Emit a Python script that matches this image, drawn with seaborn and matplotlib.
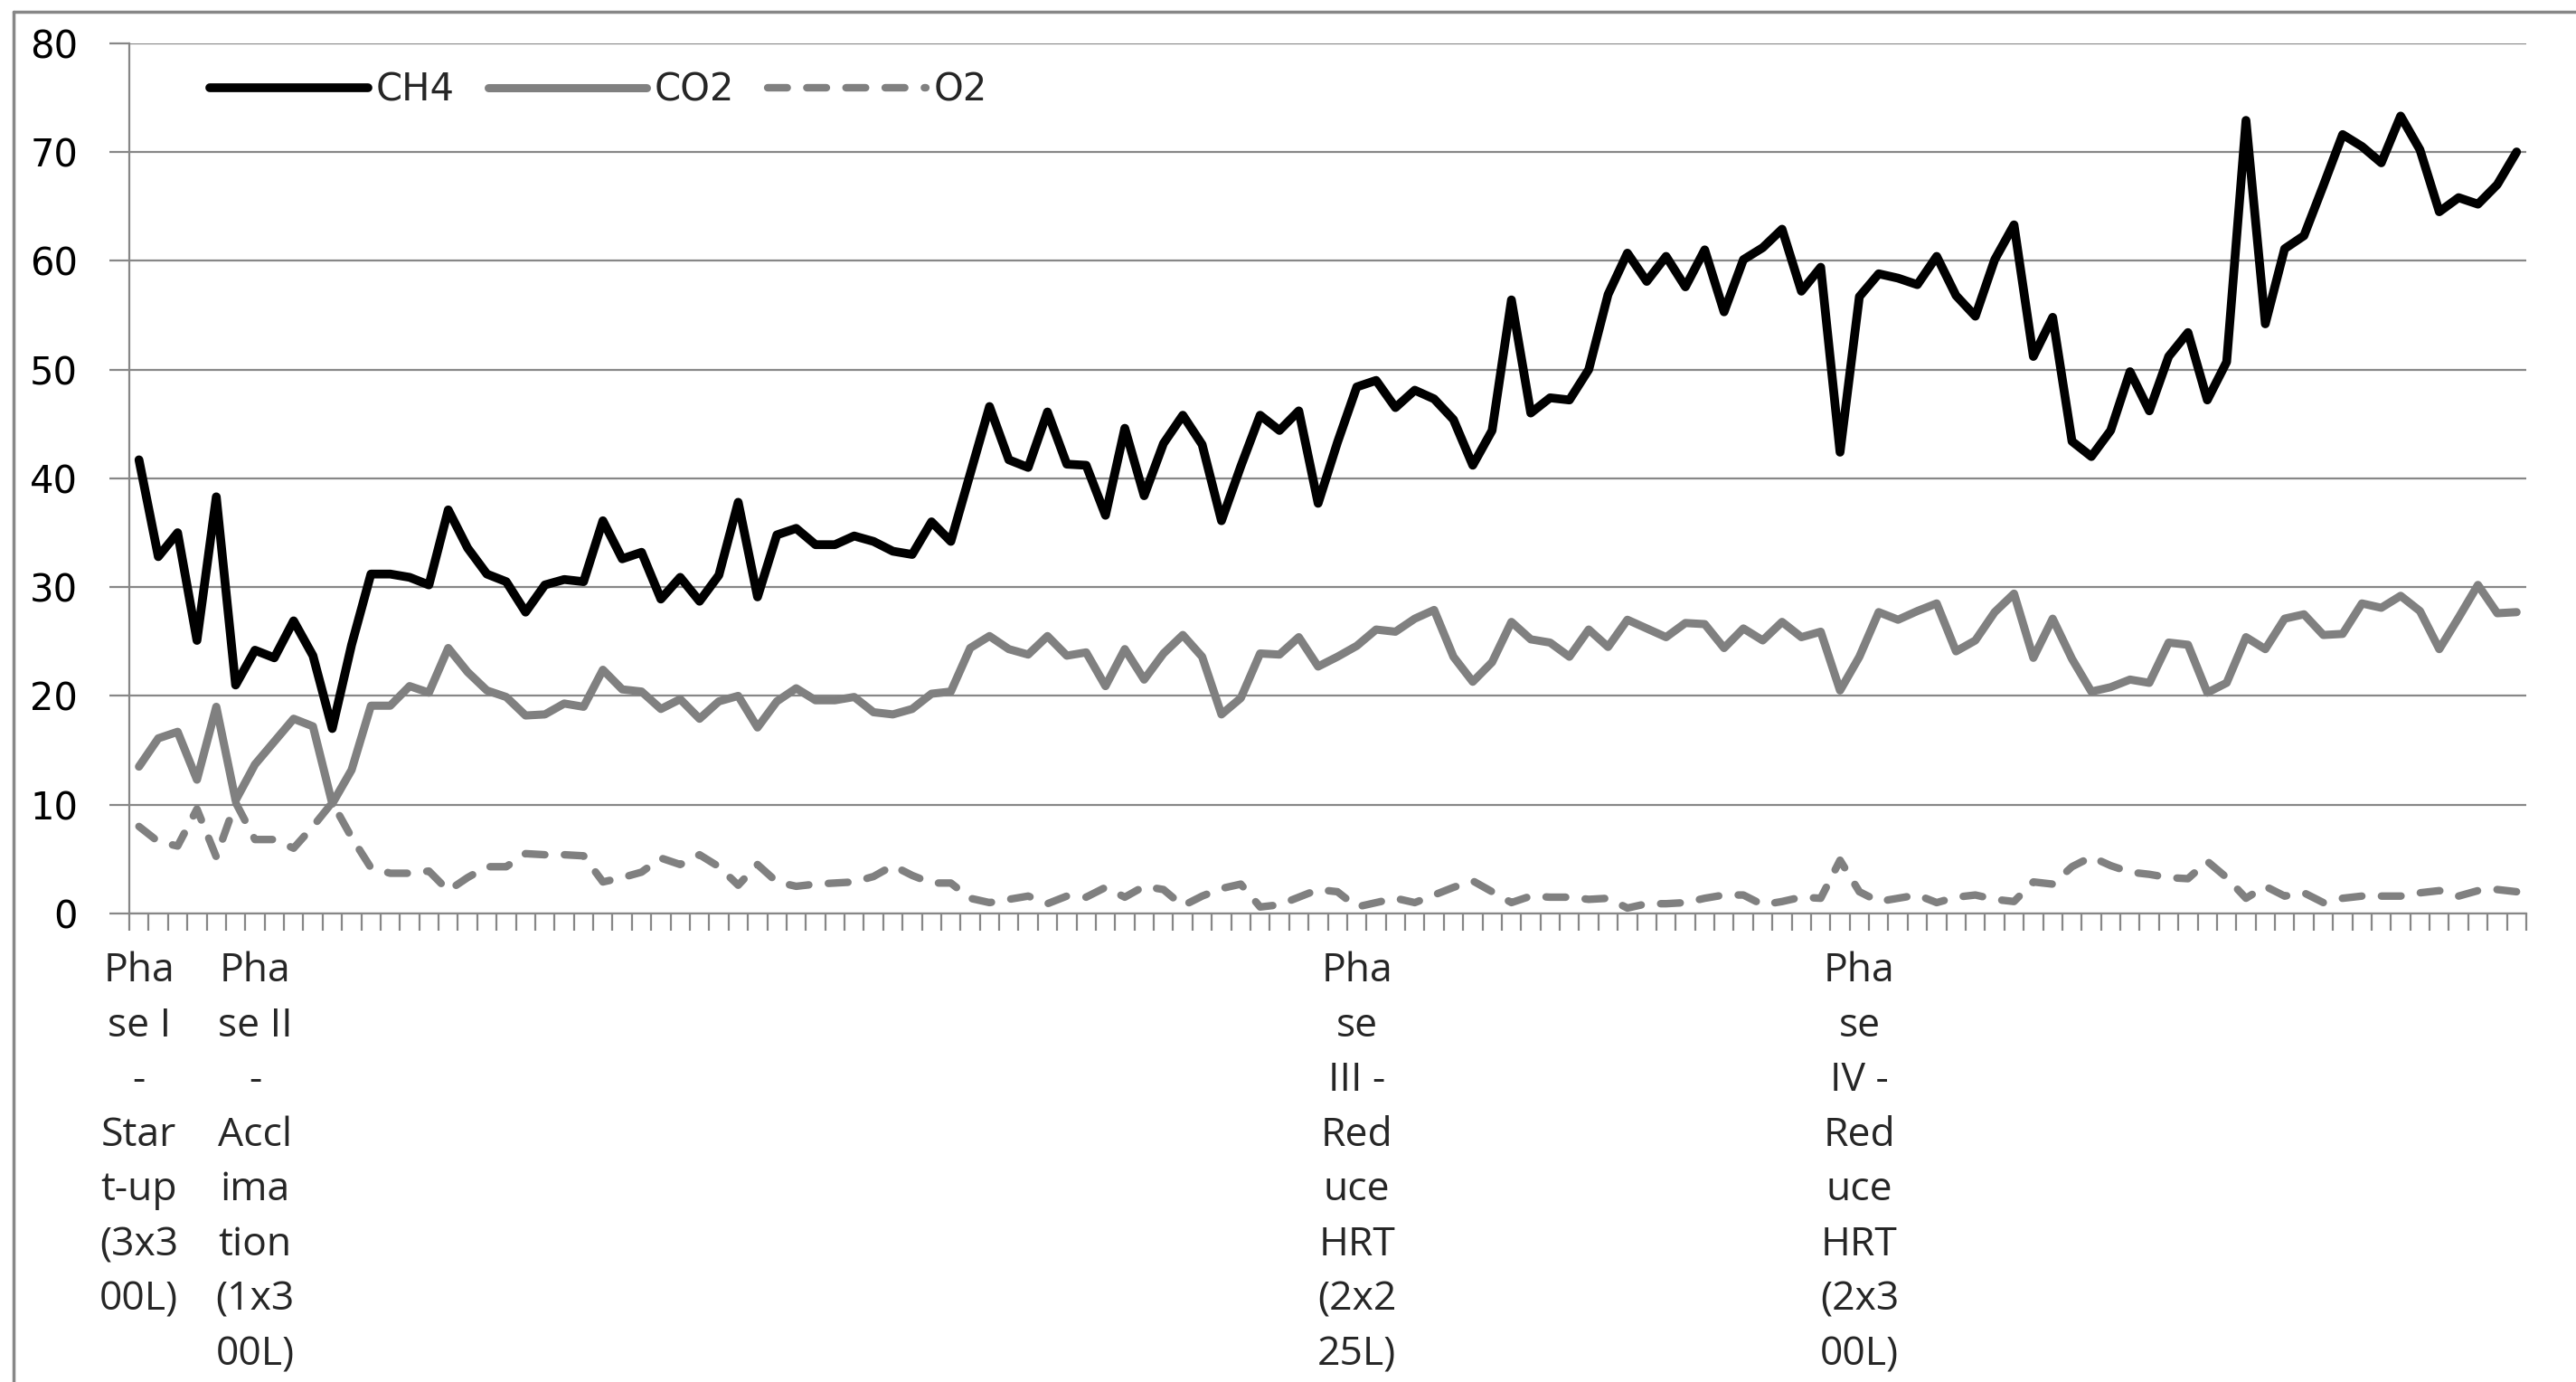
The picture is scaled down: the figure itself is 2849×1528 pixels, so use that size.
import numpy as np
import pandas as pd
import seaborn as sns
import matplotlib.pyplot as plt
from matplotlib.lines import Line2D

# CH4 / CO2 / O2 composition (%) per sample
ch4 = [41.7, 32.8, 35.0, 25.1, 38.3, 21.0, 24.2, 23.5, 26.9, 23.7,
       17.0, 24.7, 31.2, 31.2, 30.9, 30.2, 37.1, 33.6, 31.2, 30.5,
       27.7, 30.2, 30.7, 30.5, 36.1, 32.6, 33.2, 28.9, 30.9, 28.7,
       31.1, 37.8, 29.1, 34.8, 35.4, 33.9, 33.9, 34.7, 34.2, 33.3,
       33.0, 36.0, 34.2, 40.4, 46.6, 41.7, 41.0, 46.1, 41.3, 41.2,
       36.6, 44.6, 38.4, 43.2, 45.8, 43.1, 36.1, 41.1, 45.8, 44.4,
       46.2, 37.7, 43.3, 48.4, 49.0, 46.5, 48.1, 47.3, 45.4, 41.2,
       44.4, 56.4, 46.0, 47.4, 47.2, 50.0, 56.9, 60.7, 58.1, 60.4,
       57.6, 61.0, 55.3, 60.1, 61.2, 62.9, 57.2, 59.4, 42.4, 56.7,
       58.8, 58.4, 57.8, 60.4, 56.8, 54.9, 60.1, 63.3, 51.2, 54.8,
       43.4, 42.0, 44.4, 49.8, 46.2, 51.2, 53.4, 47.2, 50.7, 72.9,
       54.2, 61.1, 62.3, 66.9, 71.6, 70.5, 69.0, 73.3, 70.2, 64.5,
       65.8, 65.2, 67.0, 70.0]

co2 = [13.5, 16.1, 16.7, 12.3, 19.0, 10.4, 13.7, 15.8, 17.9, 17.2,
       10.1, 13.2, 19.1, 19.1, 20.9, 20.3, 24.4, 22.2, 20.5, 19.9,
       18.2, 18.3, 19.3, 19.0, 22.4, 20.6, 20.4, 18.8, 19.7, 17.9,
       19.5, 20.0, 17.1, 19.5, 20.7, 19.6, 19.6, 19.9, 18.5, 18.3,
       18.8, 20.2, 20.4, 24.4, 25.5, 24.3, 23.8, 25.5, 23.7, 24.0,
       20.9, 24.3, 21.5, 23.9, 25.6, 23.6, 18.3, 19.8, 23.9, 23.8,
       25.4, 22.7, 23.6, 24.6, 26.1, 25.9, 27.1, 27.9, 23.6, 21.3,
       23.1, 26.8, 25.2, 24.9, 23.6, 26.1, 24.5, 27.0, 26.2, 25.4,
       26.7, 26.6, 24.4, 26.2, 25.1, 26.8, 25.4, 25.9, 20.5, 23.6,
       27.7, 27.0, 27.8, 28.5, 24.1, 25.1, 27.7, 29.4, 23.5, 27.1,
       23.4, 20.4, 20.8, 21.5, 21.2, 24.9, 24.7, 20.3, 21.2, 25.4,
       24.3, 27.1, 27.5, 25.6, 25.7, 28.5, 28.1, 29.2, 27.8, 24.3,
       27.2, 30.2, 27.6, 27.7]

o2 = [8.0, 6.6, 6.2, 9.6, 5.2, 10.2, 6.8, 6.8, 6.0, 8.0,
      10.2, 7.0, 4.2, 3.7, 3.7, 3.9, 2.1, 3.3, 4.3, 4.3,
      5.5, 5.4, 5.4, 5.3, 2.9, 3.3, 3.8, 5.1, 4.5, 5.4,
      4.3, 2.6, 4.5, 2.9, 2.5, 2.7, 2.8, 2.9, 3.4, 4.4,
      3.5, 2.8, 2.8, 1.4, 1.0, 1.3, 1.6, 0.9, 1.6, 1.5,
      2.4, 1.5, 2.5, 2.2, 0.7, 1.6, 2.3, 2.7, 0.6, 0.8,
      1.5, 2.2, 2.0, 0.6, 1.0, 1.4, 1.0, 1.7, 2.4, 3.0,
      2.0, 1.0, 1.6, 1.5, 1.5, 1.3, 1.4, 0.5, 0.9, 0.9,
      1.0, 1.4, 1.7, 1.7, 0.8, 1.1, 1.5, 1.4, 4.9, 2.0,
      1.1, 1.4, 1.7, 1.0, 1.5, 1.7, 1.3, 1.1, 2.9, 2.7,
      4.3, 5.2, 4.4, 3.8, 3.6, 3.3, 3.2, 4.8, 3.3, 1.4,
      2.5, 1.6, 1.9, 1.0, 1.4, 1.6, 1.6, 1.6, 1.9, 2.1,
      1.6, 2.1, 2.2, 2.0]

# category labels (only these samples carry a label), wrapped like the original
phase_pos = [0, 6, 63, 89]
phase_names = ["Pha\nse I\n-\nStar\nt-up\n(3x3\n00L)",
               "Pha\nse II\n-\nAccl\nima\ntion\n(1x3\n00L)",
               "Pha\nse\nIII -\nRed\nuce\nHRT\n(2x2\n25L)",
               "Pha\nse\nIV -\nRed\nuce\nHRT\n(2x3\n00L)"]

y_ticks = [0, 10, 20, 30, 40, 50, 60, 70, 80]

df = pd.DataFrame({"sample": np.arange(len(ch4)), "CH4": ch4, "CO2": co2, "O2": o2})
n = len(df)

sns.set_style("white")
plt.rcParams["font.family"] = ["DejaVu Sans"]

W, H = 2849, 1528
fig = plt.figure(figsize=(W / 100, H / 100), dpi=100)
ax = fig.add_axes([143 / W, 1 - 1010 / H, (2794 - 143) / W, (1010 - 47.7) / H])

grey = "#878787"

sns.lineplot(data=df, x="sample", y="CH4", ax=ax, color="black", linewidth=7,
             solid_joinstyle="round", solid_capstyle="round", label="CH4")
sns.lineplot(data=df, x="sample", y="CO2", ax=ax, color="#808080", linewidth=6.5,
             solid_joinstyle="round", solid_capstyle="round", label="CO2")
sns.lineplot(data=df, x="sample", y="O2", ax=ax, color="#808080", linewidth=6,
             linestyle=(0, (2.6, 2.6)), dash_capstyle="round", label="O2")

ax.set_xlim(-0.5, n - 0.5)
ax.set_ylim(0, 80)
ax.set_xlabel("")
ax.set_ylabel("")

# y axis
ax.set_yticks(y_ticks)
ax.yaxis.grid(True, color=grey, linewidth=1.6)
ax.xaxis.grid(False)
ax.tick_params(axis="y", length=16, width=1.6, color=grey, pad=25,
               labelsize=30, labelcolor="black", left=True)

# x axis: tick marks between categories, labels on chosen categories
ax.set_xticks(np.arange(n + 1) - 0.5)
ax.set_xticklabels([])
ax.tick_params(axis="x", which="major", length=14, width=1.6, color=grey,
               direction="out", bottom=True)
ax.set_xticks(phase_pos, minor=True)
ax.set_xticklabels(phase_names, minor=True, fontsize=32, family=["Open Sans", "DejaVu Sans"],
                   linespacing=1.48)
ax.tick_params(axis="x", which="minor", length=0, pad=30)

for s in ["top", "right"]:
    ax.spines[s].set_visible(False)
for s in ["left", "bottom"]:
    ax.spines[s].set_color(grey)
    ax.spines[s].set_linewidth(1.6)
ax.set_axisbelow(True)

leg = ax.legend(loc="center left", bbox_to_anchor=(232 / W, 1 - 100 / H),
                bbox_transform=fig.transFigure, ncol=3, frameon=False,
                fontsize=30, handlelength=4.2, handletextpad=0.2,
                columnspacing=0.9, borderpad=0, borderaxespad=0)

# outer chart border (left and top edges visible)
fig.add_artist(Line2D([15 / W, 15 / W], [0, 1 - 13 / H], color=grey, linewidth=2.5,
                      transform=fig.transFigure))
fig.add_artist(Line2D([15 / W, 1], [1 - 13 / H, 1 - 13 / H], color=grey, linewidth=2.5,
                      transform=fig.transFigure))

fig.savefig("out.png", dpi=100, facecolor="white")
